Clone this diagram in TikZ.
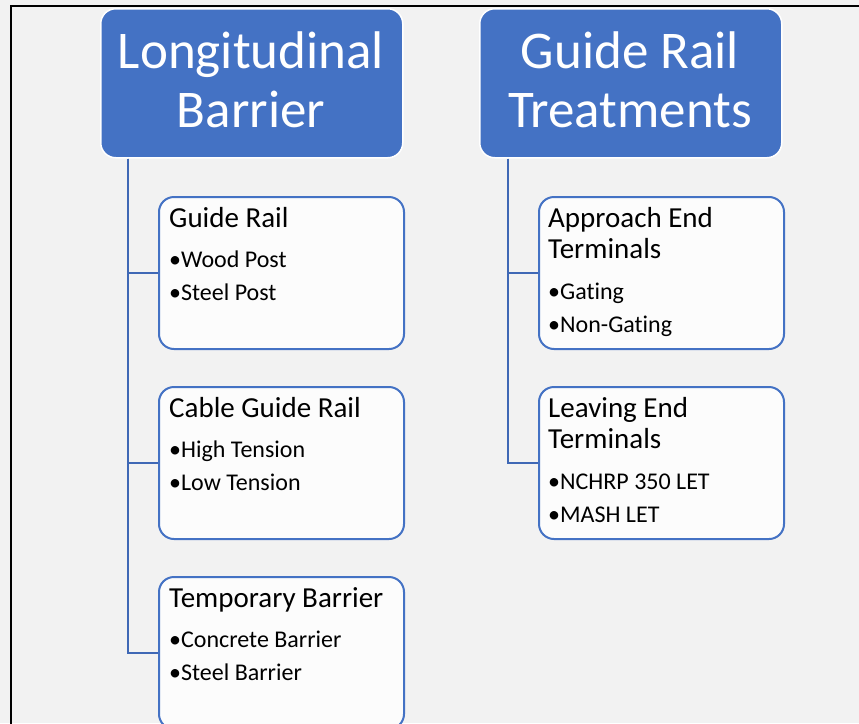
\documentclass[tikz,border=0pt]{standalone}
\usepackage{fontspec}
\setmainfont{Carlito}[Ligatures=NoCommon]
\usetikzlibrary{calc}
\definecolor{hdr}{HTML}{4472C4}
\definecolor{lnk}{HTML}{3F68B5}
\definecolor{bg}{HTML}{F2F2F2}
\definecolor{boxfill}{HTML}{FCFCFC}
\begin{document}
\begin{tikzpicture}[x=1pt,y=-1pt,
  hbox/.style={draw=white, line width=1.5pt, fill=hdr, rounded corners=15pt, minimum width=302pt, minimum height=149pt, anchor=north west, inner sep=0pt},
  cbox/.style={draw=hdr, line width=2pt, fill=boxfill, rounded corners=15pt, minimum width=245pt, minimum height=152pt, anchor=north west, inner sep=0pt},
  htext/.style={text=white, font=\fontsize{53}{59}\selectfont, anchor=base, inner sep=0pt},
  ttext/.style={font=\fontsize{29}{31}\selectfont, align=left, anchor=base west, inner sep=0pt},
  btext/.style={font=\fontsize{24}{32.5}\selectfont, align=left, anchor=base west, inner sep=0pt},
  link/.style={draw=lnk, line width=2pt}]
\fill[bg] (0,0) rectangle (859,723);
\useasboundingbox (0,0) rectangle (859,723);
\draw[line width=2pt] (11,730) -- (11,6) -- (870,6);
% headers
\node[hbox] (h1) at (100,8) {};
\node[hbox] (h2) at (479,8) {};
\node[htext] (h1a) at (251,68) {Longitudinal};
\node[htext] (h1b) at (251,127) {Barrier};
\node[htext] (h2a) at (630,68) {Guide Rail};
\node[htext] (h2b) at (630,127) {Treatments};
% child boxes
\node[cbox] (c1) at (158,196) {};
\node[cbox] (c2) at (158,386) {};
\node[cbox] (c3) at (158,576) {};
\node[cbox] (d1) at (538,196) {};
\node[cbox] (d2) at (538,386) {};
% connectors
\draw[link] ($(h1.south west)+(28,0)$) |- (c1.west);
\draw[link] ($(h1.south west)+(28,0)$) |- (c2.west);
\draw[link] ($(h1.south west)+(28,0)$) |- (c3.west);
\draw[link] ($(h2.south west)+(29,0)$) |- (d1.west);
\draw[link] ($(h2.south west)+(29,0)$) |- (d2.west);
% texts (multi-line nodes: base = last line)
\node[ttext] (t1) at (169,227) {Guide Rail};
\node[btext] (b1) at (169,300) {•Wood Post\\•Steel Post};
\node[ttext] (t2) at (169,417) {Cable Guide Rail};
\node[btext] (b2) at (169,490) {•High Tension\\•Low Tension};
\node[ttext] (t3) at (169,607) {Temporary Barrier};
\node[btext] (b3) at (169,680) {•Concrete Barrier\\•Steel Barrier};
\node[ttext] (u1) at (548,258) {Approach End\\Terminals};
\node[btext] (v1) at (548,332) {•Gating\\•Non-Gating};
\node[ttext] (u2) at (548,448) {Leaving End\\Terminals};
\node[btext] (v2) at (548,522) {•NCHRP 350 LET\\•MASH LET};
\end{tikzpicture}
\end{document}
